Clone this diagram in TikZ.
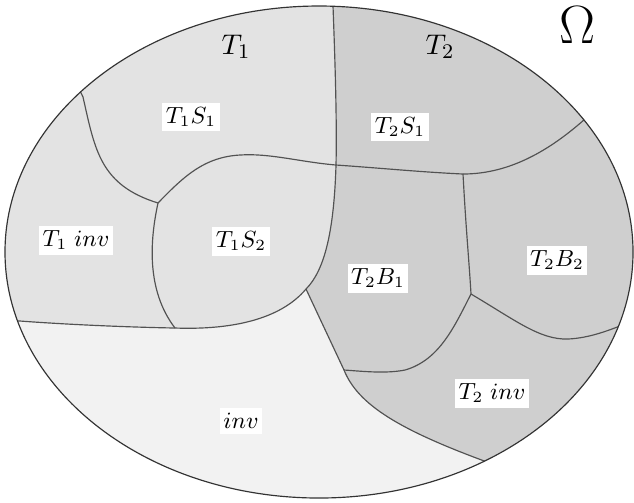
\documentclass[tikz,border=0pt]{standalone}
\definecolor{toneone}{gray}{0.89}
\definecolor{tonetwo}{gray}{0.81}
\definecolor{toneinv}{gray}{0.95}
\definecolor{edgec}{gray}{0.32}
\definecolor{rimc}{gray}{0.2}
\begin{document}
\begin{tikzpicture}[x=0.385pt,y=-0.385pt,
  bd/.style={draw=edgec, line width=0.45pt},
  lab/.style={fill=white, inner xsep=1.3pt, inner ysep=2pt, font=\small},
  ttl/.style={font=\fontsize{11}{13}\selectfont},
  rimline/.style={draw=rimc, line width=0.45pt}]
\useasboundingbox (0,0) rectangle (634,502);
\def\rim{(319,252) ellipse [x radius=314, y radius=246]}
% junctions
\coordinate (J1) at (158,203);
\coordinate (J2) at (336,165);
\coordinate (J3) at (175,328);
\coordinate (J4) at (306,289);
\coordinate (J5) at (463,174);
\coordinate (J6) at (471,294);
\coordinate (K) at (344,370);
\coordinate (Ptop) at (333,6);
\coordinate (Pleft) at (20,321);
\coordinate (Pbot) at (487,462);
\coordinate (Ptl) at (83,97);
\coordinate (Ptr) at (585,119);
\coordinate (Pr) at (630,322);

\fill[toneinv] \rim;
\begin{scope}
\clip \rim;
\fill[toneone] (333,-20) -- (Ptop) .. controls (335,60) and (337,120) .. (J2)
  .. controls (334,230) and (325,270) .. (J4)
  .. controls (280,320) and (230,330) .. (J3)
  .. controls (120,327) and (60,324) .. (Pleft) -- (-20,320) -- (-20,-20) -- cycle;
\fill[tonetwo] (333,-20) -- (Ptop) .. controls (335,60) and (337,120) .. (J2)
  .. controls (334,230) and (325,270) .. (J4) -- (K)
  .. controls (358,405) and (400,430) .. (Pbot) -- (540,482) -- (660,540) -- (660,-20) -- cycle;
% boundaries
\draw[bd] (333,-20) -- (Ptop) .. controls (335,60) and (337,120) .. (J2);
\draw[bd] (J2) .. controls (334,230) and (325,270) .. (J4);
\draw[bd] (J4) .. controls (280,320) and (230,330) .. (J3);
\draw[bd] (J3) .. controls (120,327) and (60,324) .. (Pleft) -- (-20,320);
\draw[bd] (J4) -- (K) .. controls (358,405) and (400,430) .. (Pbot) -- (540,482);
\draw[bd] (70,70) -- (Ptl) .. controls (95,150) and (100,185) .. (J1);
\draw[bd] (J1) .. controls (185,175) and (205,157) .. (240,155)
  .. controls (270,153) and (300,162) .. (J2);
\draw[bd] (J2) .. controls (380,168) and (420,172) .. (J5);
\draw[bd] (J5) .. controls (510,174) and (550,150) .. (Ptr) -- (600,104);
\draw[bd] (J1) .. controls (150,240) and (146,290) .. (J3);
\draw[bd] (J5) .. controls (466,230) and (469,260) .. (J6);
\draw[bd] (J6) .. controls (515,320) and (540,340) .. (568,339)
  .. controls (590,338) and (610,330) .. (Pr) -- (660,312);
\draw[bd] (J6) .. controls (455,325) and (440,360) .. (405,370)
  .. controls (385,374) and (360,371) .. (K);
\end{scope}
\draw[rimline] \rim;

\node[lab] (t1s1) at (191,117) {$T_1S_1$};
\node[lab] (t2s1) at (400,127) {$T_2S_1$};
\node[lab] (t1inv) at (76,240) {$T_1\;inv$};
\node[lab] (t1s2) at (241,241) {$T_1S_2$};
\node[lab] (t2b1) at (378,278) {$T_2B_1$};
\node[lab] (t2b2) at (557,260) {$T_2B_2$};
\node[lab] (t2inv) at (492,393) {$T_2\;inv$};
\node[lab] (inv) at (241,421) {$inv$};
\node[ttl] (t1) at (236,47) {$T_1$};
\node[ttl] (t2) at (440,47) {$T_2$};
\node[font=\huge] (om) at (577,25) {$\Omega$};
\end{tikzpicture}
\end{document}
